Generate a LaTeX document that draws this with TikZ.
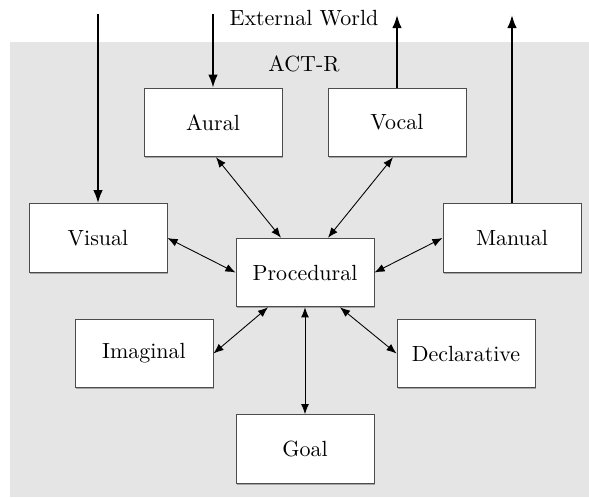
\documentclass[tikz,border=0pt]{standalone}
\usetikzlibrary{arrows.meta,calc,shadows}

\begin{document}
\begin{tikzpicture}[x=0.016cm,y=-0.016cm,
    module/.style={rectangle,draw=black!70,fill=white,inner sep=0pt,
        minimum width=2.21cm,minimum height=1.1cm,
        drop shadow={shadow xshift=0.6pt,shadow yshift=-0.6pt,fill=black!60,opacity=0.5}},
    io/.style={line width=0.9pt,-{Latex[length=6pt,width=4.4pt]}},
    link/.style={{Latex[length=4.6pt,width=3.6pt]}-{Latex[length=4.6pt,width=3.6pt]}}]
      \useasboundingbox (0,0) rectangle (589,497);
      \fill[gray!20] (10,42) rectangle (589,497);
      \node (world) at (304,18) {External World};
      \node (actr) at (304,64) {ACT-R};
      \node[module] (aural) at (213,122.5) {Aural};
      \node[module] (vocal) at (397,122.5) {Vocal};
      \node[module] (visual) at (98,238) {Visual};
      \node[module] (manual) at (512,238) {Manual};
      \node[module] (procedural) at (305,272.5) {Procedural};
      \node[module] (imaginal) at (144,353.5) {Imaginal};
      \node[module] (declarative) at (466,353.5) {Declarative};
      \node[module] (goal) at (305,449) {Goal};
      \coordinate (visualin) at (98,14);
      \coordinate (auralin) at (213,14);
      \coordinate (vocalout) at (397,15);
      \coordinate (manualout) at (512,15);
      \path
      (visualin) edge [io] (visual)
      (auralin) edge [io] (aural)
      (vocal) edge [io] (vocalout)
      (manual) edge [io] (manualout);
      \path
      ($(aural.south)+(3,0)$) edge [link] ($(procedural.north)+(-24,0)$)
      ($(vocal.south)+(-4,0)$) edge [link] ($(procedural.north)+(23,0)$)
      (visual.east) edge [link] (procedural.west)
      (manual.west) edge [link] (procedural.east)
      (imaginal.east) edge [link] ($(procedural.south)+(-37,0)$)
      (declarative.west) edge [link] ($(procedural.south)+(35,0)$)
      (goal.north) edge [link] (procedural.south);
\end{tikzpicture}
\end{document}
